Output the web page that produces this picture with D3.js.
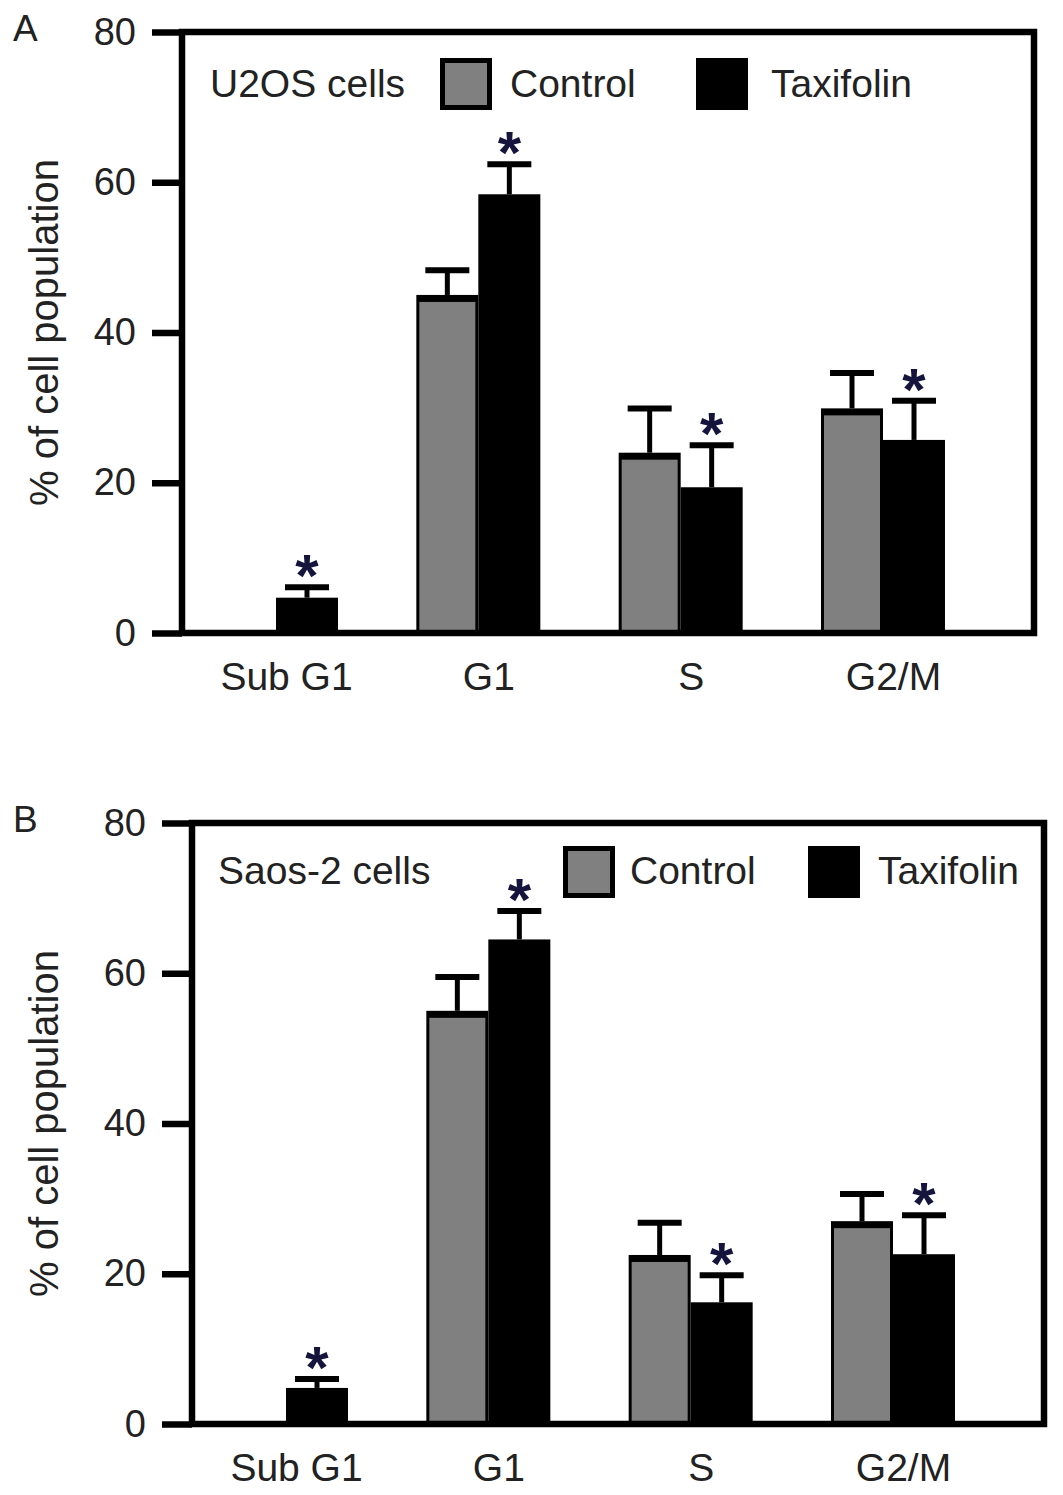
<!DOCTYPE html>
<html>
<head>
<meta charset="utf-8">
<script src="https://cdn.jsdelivr.net/npm/d3@7"></script>
<style>
  body { margin: 0; background: #fff; }
</style>
</head>
<body>
<div id="chart"></div>
<script>
// cell cycle phases on the x axis
const phases = ["Sub G1", "G1", "S", "G2/M"];
const seriesNames = ["Control", "Taxifolin"];
const yTicks = [0, 20, 40, 60, 80];

// A: U2OS cells (mean, SD)
const u2osControl = [0, 45.0, 24.0, 29.9];
const u2osControlSd = [0, 3.3, 5.9, 4.7];
const u2osTaxifolin = [4.7, 58.4, 19.4, 25.7];
const u2osTaxifolinSd = [1.4, 4.0, 5.6, 5.2];

// B: Saos-2 cells (mean, SD)
const saosControl = [0, 55.0, 22.5, 27.0];
const saosControlSd = [0, 4.5, 4.3, 3.6];
const saosTaxifolin = [4.8, 64.5, 16.2, 22.6];
const saosTaxifolinSd = [1.2, 3.8, 3.6, 5.2];

// asterisk above taxifolin bars
const u2osSignificant = [true, true, true, true];
const saosSignificant = [true, true, true, true];

const font = "'Liberation Sans', Arial, sans-serif";
const textColor = "#222";

const svg = d3.select("#chart")
  .append("svg")
  .attr("width", 1063)
  .attr("height", 1495)
  .style("background-color", "#fff");

const W = 852;
const H = 601;

// scales shared by both panels
const xScale = d3.scalePoint()
  .domain(phases)
  .range([94, 701]);

const subScale = d3.scaleBand()
  .domain(seriesNames)
  .range([-62, 62]);

const yScale = d3.scaleLinear()
  .domain([0, 80])
  .range([H, 0]);

function drawPanel(p) {
  const g = svg.append("g")
    .attr("transform", `translate(${p.left},${p.top})`);

  const rows = phases.map((ph, i) => ({
    phase: ph,
    bars: [
      { series: "Control", value: p.control[i], sd: p.controlSd[i], star: false },
      { series: "Taxifolin", value: p.taxifolin[i], sd: p.taxifolinSd[i], star: p.significant[i] }
    ]
  }));
  const bars = rows.flatMap(r => r.bars.map(b => ({ ...b, phase: r.phase })))
    .filter(b => b.value > 0);

  const bx = d => xScale(d.phase) + subScale(d.series);
  const cx = d => bx(d) + subScale.bandwidth() / 2;

  // bars (black body, grey inset for control)
  g.selectAll("rect.bar")
    .data(bars)
    .join("rect")
    .attr("class", "bar")
    .attr("x", bx)
    .attr("y", d => yScale(d.value))
    .attr("width", subScale.bandwidth())
    .attr("height", d => H - yScale(d.value))
    .attr("fill", "#000");

  g.selectAll("rect.inner")
    .data(bars.filter(d => d.series === "Control"))
    .join("rect")
    .attr("class", "inner")
    .attr("x", d => bx(d) + 3)
    .attr("y", d => yScale(d.value) + 7)
    .attr("width", subScale.bandwidth() - 6)
    .attr("height", d => Math.max(0, H - yScale(d.value) - 7))
    .attr("fill", "#808080");

  // error bars (upper only)
  const errs = bars.filter(d => d.sd > 0);
  g.selectAll("line.stem")
    .data(errs)
    .join("line")
    .attr("class", "stem")
    .attr("x1", cx)
    .attr("x2", cx)
    .attr("y1", d => yScale(d.value))
    .attr("y2", d => yScale(d.value + d.sd))
    .attr("stroke", "#000")
    .attr("stroke-width", 5);

  g.selectAll("line.cap")
    .data(errs)
    .join("line")
    .attr("class", "cap")
    .attr("x1", d => cx(d) - 22)
    .attr("x2", d => cx(d) + 22)
    .attr("y1", d => yScale(d.value + d.sd))
    .attr("y2", d => yScale(d.value + d.sd))
    .attr("stroke", "#000")
    .attr("stroke-width", 6);

  g.selectAll("text.star")
    .data(bars.filter(d => d.star))
    .join("text")
    .attr("class", "star")
    .text("*")
    .attr("x", cx)
    .attr("y", d => yScale(d.value + d.sd) + 9)
    .attr("text-anchor", "middle")
    .attr("font-family", font)
    .attr("font-weight", 700)
    .attr("font-size", 60)
    .attr("fill", "#14143c");

  // frame
  g.append("rect")
    .attr("width", W)
    .attr("height", H)
    .attr("fill", "none")
    .attr("stroke", "#000")
    .attr("stroke-width", 6.5);

  // y axis
  const yAxisGroup = g.append("g")
    .call(d3.axisLeft(yScale).tickValues(yTicks).tickSize(30).tickPadding(16));
  yAxisGroup.select(".domain").remove();
  yAxisGroup.selectAll(".tick line")
    .attr("stroke", "#000")
    .attr("stroke-width", 6.5);
  yAxisGroup.selectAll(".tick text")
    .attr("fill", textColor)
    .attr("font-family", font)
    .attr("font-size", 38);

  // x axis labels
  const xAxisGroup = g.append("g")
    .attr("transform", `translate(0,${H})`)
    .call(d3.axisBottom(xScale).tickSize(0).tickPadding(29));
  xAxisGroup.select(".domain").remove();
  xAxisGroup.selectAll(".tick text")
    .attr("dx", 10)
    .attr("fill", textColor)
    .attr("font-family", font)
    .attr("font-size", 39);

  // y axis title
  g.append("text")
    .text("% of cell population")
    .attr("transform", `translate(${p.titleX - p.left},${H / 2}) rotate(-90)`)
    .attr("text-anchor", "middle")
    .attr("fill", textColor)
    .attr("font-family", font)
    .attr("font-size", 40);

  // panel letter
  svg.append("text")
    .text(p.letter)
    .attr("x", 13)
    .attr("y", p.top + 9)
    .attr("fill", textColor)
    .attr("font-family", font)
    .attr("font-size", 37);

  // legend
  const lg = g.append("g");
  lg.append("text")
    .text(p.cells)
    .attr("x", p.legend.label)
    .attr("y", p.legend.baseline)
    .attr("fill", textColor)
    .attr("font-family", font)
    .attr("font-size", 39);

  seriesNames.forEach((s, i) => {
    lg.append("rect")
      .attr("x", p.legend.box[i] + 2.5)
      .attr("y", p.legend.boxTop + 2.5)
      .attr("width", 47)
      .attr("height", 47)
      .attr("fill", s === "Control" ? "#808080" : "#000")
      .attr("stroke", "#000")
      .attr("stroke-width", 5);
    lg.append("text")
      .text(s)
      .attr("x", p.legend.text[i])
      .attr("y", p.legend.baseline)
      .attr("fill", textColor)
      .attr("font-family", font)
      .attr("font-size", 39);
  });
}

drawPanel({
  letter: "A", cells: "U2OS cells",
  left: 182, top: 32, titleX: 58,
  control: u2osControl, controlSd: u2osControlSd,
  taxifolin: u2osTaxifolin, taxifolinSd: u2osTaxifolinSd,
  significant: u2osSignificant,
  legend: { label: 28, baseline: 65, boxTop: 26, box: [258, 514], text: [328, 589] }
});

drawPanel({
  letter: "B", cells: "Saos-2 cells",
  left: 192, top: 823, titleX: 58,
  control: saosControl, controlSd: saosControlSd,
  taxifolin: saosTaxifolin, taxifolinSd: saosTaxifolinSd,
  significant: saosSignificant,
  legend: { label: 26, baseline: 61, boxTop: 23, box: [371, 616], text: [438, 686] }
});
</script>
</body>
</html>
